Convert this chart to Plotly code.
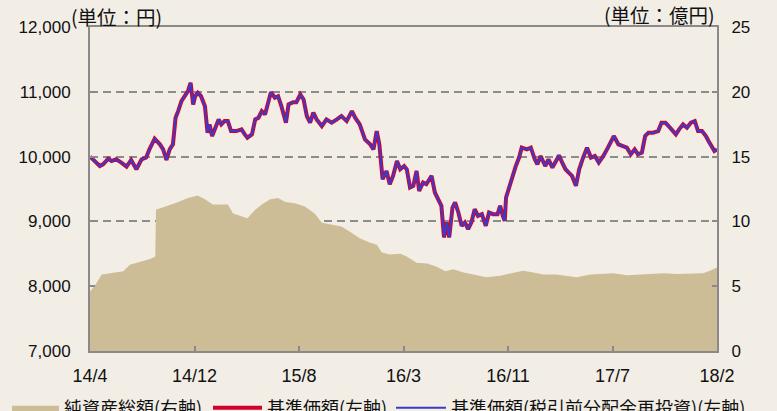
import plotly.graph_objects as go

# ---- data ----
tick_pos = [0, 160, 320, 480, 640, 800, 960]
tick_labels = ["14/4", "14/12", "15/8", "16/3", "16/11", "17/7", "18/2"]

nav_day = [0, 7, 15, 20, 28, 33, 40, 48, 56, 63, 71, 79, 86, 91, 99, 107, 112, 117, 122, 127,
           131, 135, 140, 145, 150, 154, 158, 161, 165, 170, 176, 180, 183, 187, 191, 197, 201,
           206, 211, 216, 224, 232, 237, 241,
           248, 253, 258, 263, 268, 273, 277, 283, 288, 293, 300, 304, 311, 316, 322, 327, 332,
           337, 342, 347, 355, 362, 370, 378, 385, 393, 401, 406, 413, 421, 429, 434, 439, 443,
           448, 454, 459, 464, 470, 475, 481,
           485, 490, 495, 500, 504, 510, 515, 523, 528, 533, 538, 542, 546, 550, 555, 559, 564,
           569, 574, 579, 584, 589, 594, 600, 606, 611, 617, 624, 628, 632, 635, 637, 642, 647,
           652, 657, 661, 669, 675, 681, 685, 690, 697, 702, 708, 715,
           718, 723, 728, 733, 738, 744, 749, 755, 761, 767, 773, 779, 786, 793, 799, 802, 809,
           817, 822, 828, 834, 839, 845, 850, 855, 862, 870, 875, 881, 888, 897, 902, 908, 914,
           920, 926, 931, 937, 943, 947, 952, 956, 960]
nav = [10000, 9932, 9855, 9880, 9969, 9932, 9958, 9908, 9846, 9948, 9805, 9958, 9985, 10112, 10277,
       10190, 10112, 9948, 10112, 10190,
       10600, 10702, 10855, 10932, 11009, 11138, 10805, 10932, 10985, 10932, 10778, 10369, 10497,
       10317, 10420, 10574, 10497, 10548, 10548, 10394, 10394, 10420, 10343, 10292,
       10343, 10574, 10600, 10702, 10651, 10855, 10994, 10908, 10932, 10778, 10523, 10805, 10840,
       10840, 10958, 10882, 10625, 10523, 10677, 10574, 10471, 10574, 10523, 10574, 10625, 10548,
       10702, 10600, 10497, 10266, 10190, 10112, 10394, 10190, 9651, 9778, 9574, 9702, 9932, 9805,
       9855,
       9805, 9523, 9548, 9778, 9471, 9600, 9574, 9702, 9446, 9343, 9240, 8754, 8985, 8754, 9215,
       9292, 9138, 8932, 8985, 8882, 8985, 9189, 9086, 9112, 8932, 9138, 9112, 9112, 9240, 9086,
       9009, 9369, 9548, 9702, 9855, 9985, 10138, 10112, 10138, 9958, 9880, 10009, 9855, 9958,
       9831, 9958,
       10020, 9908, 9805, 9754, 9702, 9548, 9805, 9985, 10138, 9985, 10009, 9908, 10009, 10138,
       10266, 10317, 10190, 10163, 10138, 10035, 10112, 10035, 10061, 10317, 10369, 10369, 10394,
       10523, 10523, 10446, 10343, 10420, 10497, 10446, 10523, 10548, 10394, 10394, 10317, 10240,
       10138, 10086, 10112]
# no distributions were paid, so the reinvested series coincides with the NAV
nav_reinvest = list(nav)

asset_day = [0, 8, 18, 31, 51, 61, 77, 84, 92, 100, 101, 130, 150, 165, 176, 188, 211, 219, 241,
             253, 263, 276, 288, 299, 314, 329, 344, 355, 370, 385, 398, 413, 429, 439, 447, 459,
             475, 485, 500, 516, 531, 544, 556, 572, 587, 607, 628, 648, 663, 679, 694, 714, 730,
             745, 766, 786, 801, 822, 842, 863, 878, 898, 919, 939, 949, 958, 960]
net_assets = [4.6, 5.1, 5.9, 6.0, 6.15, 6.65, 6.9, 7.0, 7.1, 7.3, 10.9, 11.4, 11.8, 12.0, 11.7,
              11.3, 11.3, 10.6, 10.25, 10.9, 11.3, 11.7, 11.8, 11.5, 11.4, 11.15, 10.6, 9.9, 9.75,
              9.6, 9.2, 8.7, 8.35, 8.2, 7.6, 7.45, 7.5, 7.3, 6.8, 6.75, 6.5, 6.15, 6.3, 6.05, 5.9,
              5.7, 5.8, 6.05, 6.2, 6.05, 5.9, 5.9, 5.8, 5.7, 5.9, 5.95, 6.0, 5.85, 5.9, 5.95, 6.0,
              5.95, 5.95, 6.0, 6.2, 6.4, 6.45]

# ---- styles ----
BG = "#F2EEE6"
FRAME = "#8A8A8A"
FONT = "Noto Sans CJK JP"
NUMFONT = "Liberation Sans, Noto Sans CJK JP"
TXT = "#111111"

fig = go.Figure()
fig.add_trace(go.Scatter(
    x=asset_day, y=net_assets, name="純資産総額(右軸)", mode="lines",
    fill="tozeroy", fillcolor="#CDBD97", line=dict(width=0, color="#CDBD97"),
    yaxis="y", hoverinfo="skip", legend="legend"))
fig.add_trace(go.Scatter(
    x=nav_day, y=nav, name="基準価額(左軸)", mode="lines",
    line=dict(color="#D4002C", width=4), yaxis="y2", legend="legend2"))
fig.add_trace(go.Scatter(
    x=nav_day, y=nav_reinvest, name="基準価額(税引前分配金再投資)(左軸)", mode="lines",
    line=dict(color="#3B3BC9", width=2), yaxis="y2", legend="legend3"))

axis_common = dict(showline=True, linecolor=FRAME, linewidth=2, zeroline=False,
                   ticks="inside", ticklen=5, tickcolor=FRAME, tickwidth=1.5,
                   automargin=False, tickfont=dict(family=NUMFONT, size=17, color=TXT))


def legend_box(x, itemwidth):
    return dict(orientation="h", xref="container", yref="container",
                x=x, y=0.052, xanchor="left", yanchor="top",
                font=dict(size=18), bgcolor="rgba(0,0,0,0)", itemwidth=itemwidth)


fig.update_layout(
    width=777, height=411,
    margin=dict(l=90, r=60, t=27, b=60, autoexpand=False),
    paper_bgcolor=BG, plot_bgcolor=BG,
    font=dict(family=FONT, size=16, color=TXT),
    xaxis=dict(range=[0, 960], tickvals=tick_pos, ticktext=tick_labels, mirror=True,
               showgrid=False, ticklabelstandoff=7, **axis_common),
    yaxis=dict(range=[0, 25], dtick=5, side="right",
               showgrid=True, gridcolor="#8C8C8C", gridwidth=2, griddash="8px,5px",
               ticklabelstandoff=9, **axis_common),
    yaxis2=dict(range=[7000, 12000], dtick=1000, tickformat=",", side="left",
                overlaying="y", showgrid=False, ticklabelstandoff=14, **axis_common),
    legend=legend_box(0.009, 47),
    legend2=legend_box(0.2677, 49),
    legend3=legend_box(0.5032, 50),
    showlegend=True,
    annotations=[
        dict(text="(単位：円)", xref="paper", yref="paper", x=-0.0335, y=1.032,
             xanchor="left", yanchor="middle", showarrow=False, font=dict(size=19.5)),
        dict(text="(単位：億円)", xref="paper", yref="paper", x=1.0, y=1.038,
             xanchor="right", yanchor="middle", showarrow=False, font=dict(size=19.5)),
    ],
)
fig.update_xaxes(tickfont=dict(family=NUMFONT, size=18, color=TXT))

fig.write_html("out.html", config={"displayModeBar": False},
               post_script="document.body.style.margin='0';")
